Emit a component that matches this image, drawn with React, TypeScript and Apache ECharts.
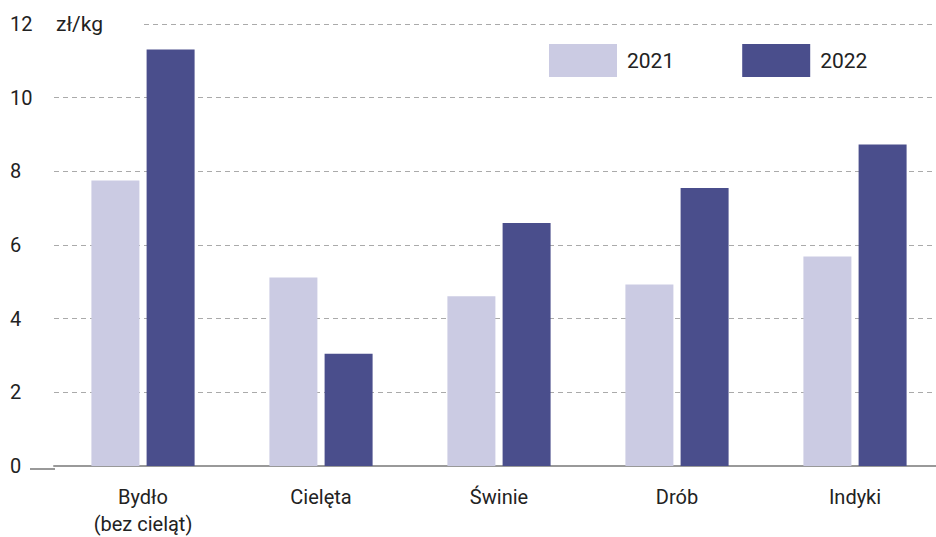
import React, { useEffect, useRef } from "react";
import * as echarts from "echarts";

const categories = ["Bydło\n(bez cieląt)", "Cielęta", "Świnie", "Drób", "Indyki"];
const values2021 = [7.75, 5.12, 4.61, 4.93, 5.69];
const values2022 = [11.31, 3.05, 6.6, 7.55, 8.73];
const seriesNames = ["2021", "2022"];
const yTicks = { min: 0, max: 12, interval: 2 };
const unitLabel = "zł/kg";

const FONT = "Roboto, 'Noto Sans', sans-serif";
const C2021 = "#cbcbe3";
const C2022 = "#4a4e8c";

export default function App() {
  const ref = useRef<HTMLDivElement>(null);
  useEffect(() => {
    if (!ref.current) return;
    const chart = echarts.init(ref.current, undefined, { renderer: "svg" });
    chart.setOption({
      animation: false,
      textStyle: { fontFamily: FONT },
      grid: { left: 54, right: 0, top: 24, bottom: 68 },
      legend: {
        data: seriesNames,
        left: 544,
        top: 39,
        itemWidth: 68,
        itemHeight: 33,
        itemGap: 68,
        icon: "rect",
        textStyle: { fontSize: 21, color: "#222", fontFamily: FONT, padding: [0, 0, 0, 5] },
      },
      xAxis: {
        type: "category",
        data: categories,
        axisLine: { show: true, lineStyle: { color: "#999", width: 2 } },
        axisTick: { show: false },
        axisLabel: { fontSize: 20, color: "#222", margin: 17, lineHeight: 27, fontFamily: FONT },
      },
      yAxis: {
        type: "value",
        min: yTicks.min,
        max: yTicks.max,
        interval: yTicks.interval,
        axisLine: { show: false },
        axisTick: { show: false },
        splitLine: { lineStyle: { color: "#aaa", type: [5, 4], width: 1 } },
        axisLabel: { fontSize: 20, color: "#222", align: "left", margin: 44, fontFamily: FONT },
      },
      series: [
        {
          name: seriesNames[0],
          type: "bar",
          data: values2021,
          barWidth: 48,
          barGap: "15%",
          itemStyle: { color: C2021 },
        },
        {
          name: seriesNames[1],
          type: "bar",
          data: values2022,
          barWidth: 48,
          barGap: "15%",
          itemStyle: { color: C2022 },
        },
      ],
      graphic: [
        {
          type: "rect",
          shape: { x: 50, y: 14, width: 92, height: 20 },
          style: { fill: "#fff" },
          z: 10,
        },
        {
          type: "text",
          x: 56,
          y: 24,
          z: 11,
          style: {
            text: unitLabel,
            fontSize: 21,
            fill: "#222",
            fontFamily: FONT,
            verticalAlign: "middle",
          },
        },
        {
          type: "line",
          shape: { x1: 30, y1: 469, x2: 55, y2: 469 },
          style: { stroke: "#999", lineWidth: 2 },
          z: 10,
        },
      ],
    });
    return () => chart.dispose();
  }, []);
  return (
    <div
      style={{
        position: "absolute",
        left: 0,
        top: 0,
        width: 936,
        height: 537,
        overflow: "hidden",
      }}
    >
      <div ref={ref} style={{ width: 944, height: 537 }} />
    </div>
  );
}
